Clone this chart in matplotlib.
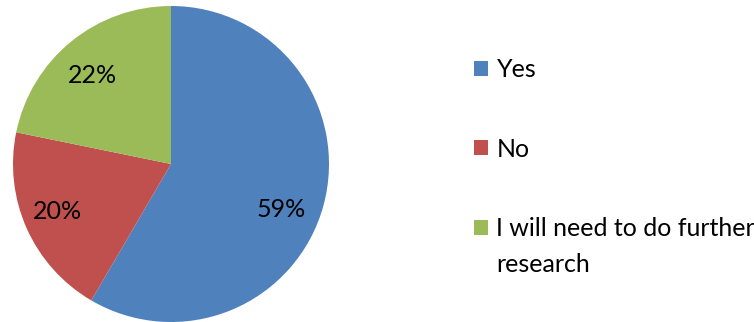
import matplotlib.pyplot as plt

plt.rcParams['font.family'] = ['Lato', 'DejaVu Sans']

categories = ['Yes', 'No', 'I will need to do further\nresearch']
values = [59, 20, 22]
colors = ['#4F81BD', '#C0504D', '#9BBB59']

# where Excel put the percentage labels (fraction of radius)
label_pos = [(0.70, -0.29), (-0.72, -0.30), (-0.50, 0.56)]

fig = plt.figure(figsize=(7.54, 3.22), dpi=100)
ax = fig.add_axes([13 / 754, 0, 316 / 754, 316 / 322])

wedges, texts = ax.pie(values, colors=colors, startangle=90, counterclock=False,
                       labels=[f'{v}%' for v in values], labeldistance=0.76,
                       wedgeprops=dict(linewidth=0),
                       textprops=dict(fontsize=18, color='black', ha='center', va='center'))
for t, p in zip(texts, label_pos):
    t.set_position(p)
ax.set_xlim(-1, 1)
ax.set_ylim(-1, 1)
ax.set_aspect('equal')

first_lines = [c.split('\n')[0] for c in categories]
leg = fig.legend(wedges, first_lines, loc='upper left', bbox_to_anchor=(464 / 754, 1 - 48 / 322),
                 frameon=False, fontsize=18, handlelength=0.55, handleheight=0.55,
                 handletextpad=0.35, labelspacing=2.27, borderaxespad=0)

# continuation lines of wrapped labels go under the first line
fig.canvas.draw()
inv = fig.transFigure.inverted()
for c, t in zip(categories, leg.get_texts()):
    rest = c.split('\n')[1:]
    if rest:
        bb = t.get_window_extent()
        x0, y0 = inv.transform((bb.x0, bb.y0))
        fig.text(x0, y0 - 12 / 322, '\n'.join(rest), fontsize=18, ha='left', va='top')

fig.savefig('out.png', dpi=100)
